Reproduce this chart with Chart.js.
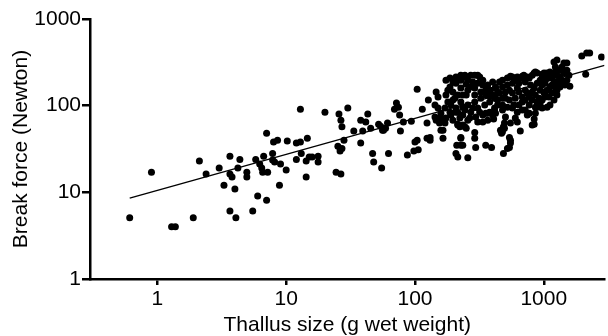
<!DOCTYPE html>
<html>
<head>
<meta charset="utf-8">
<script src="https://cdn.jsdelivr.net/npm/chart.js@4.4.0/dist/chart.umd.min.js"></script>
<style>
  html, body { margin: 0; padding: 0; background: #fff; }
  #chart { display: block; }
</style>
</head>
<body>
<canvas id="chart" width="608" height="336"></canvas>
<script>
// DATA
var thallusSize = [
    0.61, 0.90, 1.29, 1.38, 1.90, 2.12, 2.39, 3.02, 3.66, 4.37,
    4.22, 3.66, 3.8, 3.29, 4.00, 3.66, 4.07, 4.95, 4.95, 5.5,
    6.01, 7.05, 5.80, 6.69, 6.23, 6.46, 6.57, 7.18, 7.85, 7.85,
    8.13, 7.05, 7.98, 8.57, 9.04, 8.87, 10.0, 10.2, 12.0, 12.9,
    14.6, 13.1, 12.0, 14.3, 15.1, 15.9, 14.3, 17.7, 17.7, 12.9,
    20.0, 24.4, 26.6, 25.2, 26.2, 28.1, 25.7, 26.6, 30.1, 27.1,
    27.1, 33.5, 37.9, 41.5, 43.0, 39.3, 37.9, 45.3, 46.9, 47.8,
    55.1, 54.1, 56.0, 59.1, 61.2, 52.2, 57.0, 62.3, 69.3, 71.8,
    74.4, 76, 77.1, 81.3, 93.7, 87.3, 100, 104, 106, 98,
    104, 114, 127, 124, 124, 131, 146, 143, 151, 159,
    146, 155, 165, 171, 165, 165, 174, 187, 187, 197,
    208, 227, 244, 271, 307, 215, 223, 244, 227, 227,
    215, 257, 211, 235, 291, 291, 296, 354, 393, 354,
    408, 422, 453, 461, 470, 486, 486, 541, 551, 541,
    551, 657, 771, 842, 842, 551, 623, 681, 745, 842,
    888, 971, 1060, 1117, 1023, 1200, 1117, 1972, 2154, 2271,
    2806, 2115, 1593, 1200, 1265, 1433, 1511, 1117, 1200, 1312,
    1383, 1433, 1005, 1060, 937, 888, 1334, 1312, 1383, 1458,
    1117, 1060, 1158, 1265, 1200, 1060, 937, 888, 1265, 1334,
    1095, 1005, 174, 151, 143, 155, 174, 190, 204, 215,
    227, 208, 223, 244, 291, 318, 271, 307, 324, 291,
    250, 227, 257, 291, 324, 354, 385, 422, 215, 244,
    271, 307, 348, 380, 415, 190, 223, 257, 296, 336,
    415, 380, 235, 215, 250, 367, 159, 131, 227, 208,
    571, 700, 860, 1230, 422, 478, 522, 571, 640, 718,
    790, 1023, 453, 504, 571, 640, 718, 813, 937, 1230,
    422, 478, 541, 601, 681, 771, 860, 1023, 522, 585,
    681, 771, 888, 971, 415, 478, 623, 718, 860,
    504, 601, 551, 623, 860, 495, 495, 478, 813, 522,
    180, 197, 197, 180, 208, 235, 257, 281, 257, 336,
    367, 354, 401, 438, 235, 266, 307, 336, 281, 318,
    367, 401, 197, 187, 171, 208, 250, 291, 227, 336,
    401, 438, 380, 235,
    478, 522, 601, 681, 771, 813, 971, 1158, 1265, 1383,
    1511, 1567, 1511, 1265, 1158, 971, 842, 745, 623, 541,
    504, 571, 640, 718, 813, 920, 1023, 971, 745, 681,
    478, 438
];
var breakForce = [
    5.1, 17.1, 4.0, 4.0, 5.1, 23, 16.3, 19.1, 26, 24,
    19.1, 16.3, 15.0, 12.1, 10.9, 6.1, 5.1, 17.1, 15.0, 6.1,
    9.1, 8.1, 24, 26, 21.2, 19.1, 17.1, 17.1, 28, 23.6,
    22.4, 48, 38, 40, 21.2, 12.1, 18.1, 39, 37, 38,
    42, 28, 24, 23, 25.5, 25.5, 15.0, 26, 22.4, 91,
    84, 17.1, 16.3, 34, 30, 40, 80, 68, 94, 57,
    32, 51, 68, 65, 80, 51, 37, 55, 28, 22.4,
    19.1, 58, 52, 55, 63, 61, 52, 28, 91, 107,
    96, 78, 51, 65, 66, 27, 38, 40, 31, 30,
    155, 91, 116, 63, 42, 43, 144, 102, 94, 82,
    68, 63, 70, 63, 52, 42, 133, 164, 208, 187,
    214, 225, 225, 225, 225, 61, 57, 57, 42, 35,
    25.5, 25, 35, 35, 49, 42, 33, 35, 33, 82,
    70, 82, 187, 52, 48, 57, 28, 43, 40, 33,
    37, 51, 82, 70, 61, 219, 214, 219, 214, 238,
    238, 231, 238, 214, 182, 182, 102, 373, 404, 404,
    364, 231, 168, 318, 336, 310, 310, 244, 238, 257,
    257, 238, 238, 208, 197, 182, 214, 187, 197, 173,
    164, 151, 140, 133, 116, 96, 107, 96, 151, 164,
    126, 140, 197, 126, 74, 72, 72, 102, 122, 133,
    160, 182, 208, 214, 225, 214, 164, 182, 144, 133,
    133, 110, 102, 110, 122, 133, 151, 160, 84, 89,
    84, 94, 102, 110, 122, 78, 72, 68, 74, 78,
    94, 84, 60, 60, 55, 82, 52, 40, 43, 28,
    214, 225, 244, 280, 164, 164, 173, 182, 182, 187,
    173, 197, 140, 144, 140, 144, 151, 144, 151, 164,
    122, 122, 116, 122, 126, 126, 133, 126, 96, 102,
    110, 102, 110, 116, 89, 89, 84, 89, 96,
    74, 72, 63, 65, 82, 63, 55, 50, 60, 32,
    151, 144, 116, 110, 94, 133, 151, 187, 197, 173,
    173, 151, 133, 144, 78, 72, 65, 65, 94, 84,
    68, 78, 68, 84, 94, 84, 177, 160, 197, 197,
    187, 116, 129, 96,
    197, 208, 197, 208, 208, 225, 208, 208, 225, 279,
    257, 225, 197, 187, 173, 173, 160, 140, 160, 151,
    122, 94, 102, 116, 116, 122, 144, 94, 78, 89,
    102, 102
];

// fitted line, its two ends
var fitX = [0.61, 2960];
var fitY = [8.6, 292];

var xTicks = [1, 10, 100, 1000];
var yTicks = [1, 10, 100, 1000];

var FONT = '"Liberation Sans", Arial, Helvetica, sans-serif';

var pontos = thallusSize.map(function(x, i) {
    return { x: x, y: breakForce[i] };
});
var reta = fitX.map(function(x, i) {
    return { x: x, y: fitY[i] };
});

function fixTicks(lista) {
    return function(scale) {
        scale.ticks = lista.map(function(v) { return { value: v }; });
    };
}

var ctx = document.getElementById('chart').getContext('2d');

var grafico = new Chart(ctx, {
    type: 'scatter',
    data: {
        datasets: [{
            label: 'Break force',
            data: pontos,
            backgroundColor: '#000',
            borderWidth: 0,
            pointRadius: 3.5,
            pointHoverRadius: 3.5
        }, {
            label: 'Fit',
            type: 'line',
            data: reta,
            borderColor: '#000',
            borderWidth: 1.3,
            pointRadius: 0,
            fill: false
        }]
    },
    options: {
        responsive: false,
        animation: false,
        layout: {
            padding: { left: 0, right: 0, top: 19, bottom: 0 }
        },
        plugins: {
            legend: { display: false },
            tooltip: { enabled: false }
        },
        scales: {
            x: {
                type: 'logarithmic',
                min: 0.307,
                max: 2960,
                afterBuildTicks: fixTicks(xTicks),
                afterFit: function(s) {
                    s.height = 57;
                    s.paddingLeft = 0;
                    s.paddingRight = 0;
                },
                ticks: {
                    callback: function(v) { return String(v); },
                    font: { family: FONT, size: 21 },
                    color: '#000',
                    padding: 2,
                    maxRotation: 0,
                    autoSkip: false
                },
                grid: {
                    drawOnChartArea: false,
                    drawTicks: true,
                    tickLength: 6,
                    color: '#000',
                    lineWidth: 2.5
                },
                border: { display: true, color: '#000', width: 2.5 },
                title: {
                    display: true,
                    text: 'Thallus size (g wet weight)',
                    font: { family: FONT, size: 21, lineHeight: 1 },
                    color: '#000',
                    padding: { top: 0, bottom: 0 }
                }
            },
            y: {
                type: 'logarithmic',
                min: 1,
                max: 1000,
                afterBuildTicks: fixTicks(yTicks),
                afterFit: function(s) {
                    s.width = 90;
                    s.paddingTop = 0;
                    s.paddingBottom = 0;
                },
                ticks: {
                    callback: function(v) { return String(v); },
                    font: { family: FONT, size: 21 },
                    color: '#000',
                    padding: 1,
                    autoSkip: false
                },
                grid: {
                    drawOnChartArea: false,
                    drawTicks: true,
                    tickLength: 8,
                    color: '#000',
                    lineWidth: 2.5
                },
                border: { display: true, color: '#000', width: 2.5 },
                title: {
                    display: true,
                    text: 'Break force (Newton)',
                    font: { family: FONT, size: 21, lineHeight: 1 },
                    color: '#000',
                    padding: { top: 11, bottom: 0 }
                }
            }
        }
    }
});
</script>
</body>
</html>
